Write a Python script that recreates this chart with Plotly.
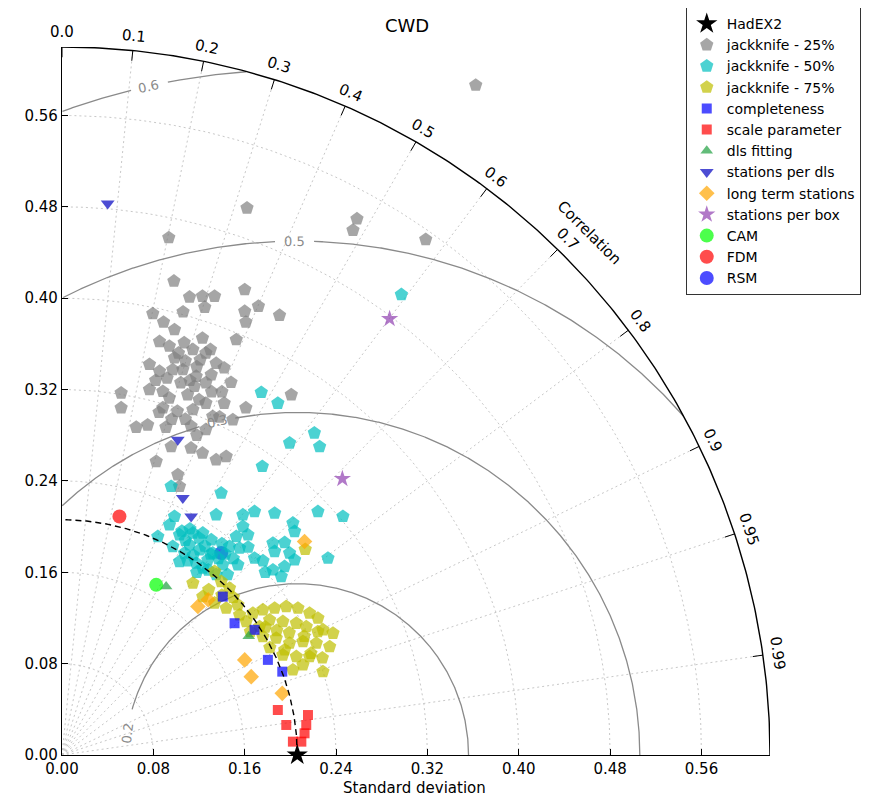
import numpy as np
import plotly.graph_objects as go

# ---------------- data (x = std*corr, y = std*sqrt(1-corr^2)) ----------------
ref_std = 0.206
had_x = [0.206]
had_y = [0.0]

jk25_x = [0.3623, 0.2583, 0.2548, 0.3185, 0.162, 0.0935, 0.098, 0.160, 0.1117, 0.123, 0.1336, 0.125,
          0.106, 0.172, 0.160, 0.1905, 0.0795, 0.161, 0.0889, 0.0985, 0.123, 0.1526, 0.0854, 0.107,
          0.1146, 0.094, 0.126, 0.135, 0.0985, 0.0766, 0.0854, 0.097, 0.1058, 0.1175, 0.1307, 0.126,
          0.148, 0.116, 0.0766, 0.0883, 0.0518, 0.110, 0.120, 0.094, 0.126, 0.142, 0.2008, 0.0518,
          0.0883, 0.101, 0.1146, 0.161, 0.132, 0.1496, 0.065, 0.075, 0.091, 0.126, 0.0956, 0.113,
          0.123, 0.135, 0.1438, 0.0825, 0.1014, 0.1029, 0.108, 0.118, 0.104, 0.113, 0.140, 0.082,
          0.130, 0.142, 0.085, 0.092, 0.102, 0.112, 0.121, 0.131, 0.096, 0.108, 0.118, 0.138]
jk25_y = [0.5866, 0.4695, 0.4595, 0.4514, 0.479, 0.453, 0.415, 0.4075, 0.401, 0.4017, 0.4017, 0.392,
          0.388, 0.393, 0.3885, 0.385, 0.3865, 0.379, 0.379, 0.3725, 0.365, 0.3637, 0.362, 0.361,
          0.355, 0.358, 0.352, 0.343, 0.3477, 0.342, 0.336, 0.3374, 0.3374, 0.3316, 0.333, 0.326,
          0.3263, 0.3228, 0.32, 0.3184, 0.317, 0.3155, 0.311, 0.3126, 0.308, 0.308, 0.3155, 0.304,
          0.304, 0.301, 0.3024, 0.304, 0.2965, 0.2936, 0.287, 0.289, 0.287, 0.285, 0.270, 0.2688,
          0.2644, 0.2585, 0.2614, 0.257, 0.2454, 0.2352, 0.345, 0.340, 0.326, 0.288, 0.318, 0.328,
          0.355, 0.339, 0.300, 0.330, 0.352, 0.328, 0.346, 0.318, 0.294, 0.294, 0.280, 0.296]

jk50_x = [0.1745, 0.189, 0.221, 0.2256, 0.1993, 0.1754, 0.2972, 0.0956, 0.1394, 0.0839,
          0.0985, 0.0941, 0.135, 0.1584, 0.1686, 0.1862, 0.2241, 0.246, 0.2022, 0.2037,
          0.1584, 0.1526, 0.1628, 0.1029, 0.1146, 0.1233, 0.1307, 0.1117, 0.097, 0.1204,
          0.132, 0.1467, 0.1555, 0.1847, 0.1862, 0.1993, 0.2037, 0.2329, 0.1686, 0.1029,
          0.1175, 0.1277, 0.1408, 0.154, 0.1847, 0.1949, 0.192, 0.1073, 0.1233,
          0.108, 0.125, 0.115, 0.137, 0.128, 0.112, 0.145, 0.135,
          0.110, 0.120, 0.105, 0.140, 0.150, 0.118, 0.130, 0.143, 0.163, 0.176, 0.195, 0.178]
jk50_y = [0.3175, 0.308, 0.282, 0.270, 0.2732, 0.2527, 0.4032, 0.2352, 0.2294, 0.1913,
          0.2089, 0.2016, 0.2103, 0.2103, 0.2132, 0.2118, 0.2132, 0.2089, 0.2031, 0.1957,
          0.2001, 0.1913, 0.1928, 0.1928, 0.1943, 0.1943, 0.1884, 0.184, 0.1826, 0.1797,
          0.1768, 0.1826, 0.1811, 0.1855, 0.1782, 0.1768, 0.1709, 0.1724, 0.1724, 0.1694,
          0.168, 0.1709, 0.1665, 0.1665, 0.1621, 0.165, 0.1563, 0.1768, 0.1636,
          0.188, 0.183, 0.175, 0.172, 0.162, 0.198, 0.158, 0.158,
          0.170, 0.190, 0.196, 0.185, 0.172, 0.160, 0.176, 0.176, 0.182, 0.170, 0.186, 0.160]

jk75_x = [0.1146, 0.1336, 0.1394, 0.1467, 0.1233, 0.1336, 0.1438, 0.154, 0.1555, 0.1672,
          0.1759, 0.1862, 0.1964, 0.2066, 0.2168, 0.2241, 0.1818, 0.1934, 0.2052, 0.2139,
          0.2285, 0.2373, 0.1759, 0.1876, 0.1993, 0.211, 0.2227, 0.2344, 0.1934, 0.2052,
          0.2168, 0.2022, 0.211, 0.2285, 0.1613, 0.173, 0.213, 0.1285,
          0.188, 0.199, 0.212, 0.224, 0.182, 0.195, 0.218, 0.228, 0.165, 0.178, 0.140, 0.150]
jk75_y = [0.1505, 0.1607, 0.1519, 0.1461, 0.1387, 0.133, 0.1286, 0.1315, 0.1227, 0.1242,
          0.1271, 0.1286, 0.13, 0.1286, 0.1242, 0.1198, 0.1183, 0.1168, 0.1154, 0.1124,
          0.1096, 0.1066, 0.1037, 0.1023, 0.0979, 0.0993, 0.0979, 0.0949, 0.0876, 0.0862,
          0.0862, 0.0745, 0.0789, 0.073, 0.1168, 0.1124, 0.180, 0.1447,
          0.109, 0.107, 0.104, 0.108, 0.094, 0.092, 0.089, 0.085, 0.108, 0.112, 0.140, 0.138]

comp_x = [0.1408, 0.1511, 0.1686, 0.1803, 0.1929]
comp_y = [0.1387, 0.1154, 0.1096, 0.0833, 0.073]

scale_x = [0.189, 0.2154, 0.1964, 0.2139, 0.2124, 0.2022, 0.2096]
scale_y = [0.0394, 0.035, 0.0263, 0.0263, 0.019, 0.0117, 0.0117]

dls_fit_x = [0.0912, 0.1635]
dls_fit_y = [0.1475, 0.104]

spd_x = [0.040, 0.1014, 0.1058, 0.1131]
spd_y = [0.483, 0.276, 0.225, 0.2089]

lts_x = [0.119, 0.128, 0.160, 0.1657, 0.1929, 0.2124]
lts_y = [0.130, 0.136, 0.0833, 0.0686, 0.054, 0.187]

spb_x = [0.4125, 0.2869, 0.2455]
spb_y = [0.6243, 0.3819, 0.2419]

cam_x = [0.0825]
cam_y = [0.149]
fdm_x = [0.0503]
fdm_y = [0.2089]
rsm_x = [0.1394]
rsm_y = [0.1768]

std_ticks = [0.00, 0.08, 0.16, 0.24, 0.32, 0.40, 0.48, 0.56]
std_labels = ["0.00", "0.08", "0.16", "0.24", "0.32", "0.40", "0.48", "0.56"]
corr_ticks = [0.0, 0.1, 0.2, 0.3, 0.4, 0.5, 0.6, 0.7, 0.8, 0.9, 0.95, 0.99]
corr_labels = ["0.0", "0.1", "0.2", "0.3", "0.4", "0.5", "0.6", "0.7", "0.8", "0.9", "0.95", "0.99"]
rms_levels = [0.15, 0.30, 0.45, 0.60]
rms_labels = ["0.2", "0.3", "0.5", "0.6"]
rms_label_phi = [172.7, 103.5, 90.3, 102.5]

R_MAX = 0.62
FONT = "DejaVu Sans"

fig = go.Figure()

def add_line(x, y, color, width, dash="solid"):
    fig.add_trace(go.Scatter(x=x, y=y, mode="lines", showlegend=False, hoverinfo="skip",
                             line=dict(color=color, width=width, dash=dash), cliponaxis=False))

def polar_note(r, ang_rad, text, angle, size, color="black"):
    # place in paper coordinates (axes span exactly [0, R_MAX] on both sides)
    fig.add_annotation(x=r * np.cos(ang_rad) / R_MAX, y=r * np.sin(ang_rad) / R_MAX,
                       xref="paper", yref="paper", text=text, showarrow=False, textangle=angle,
                       font=dict(family=FONT, size=size, color=color),
                       xanchor="center", yanchor="middle")

# dotted std arcs
th = np.linspace(0, np.pi / 2, 240)
for r in std_ticks[1:]:
    add_line(r * np.cos(th), r * np.sin(th), "#c8c8c8", 1, "2px,3px")
# dotted correlation rays
for c in corr_ticks[1:]:
    s = np.sqrt(1 - c * c)
    add_line([0, R_MAX * c], [0, R_MAX * s], "#c8c8c8", 1, "2px,3px")

# RMS arcs (centered on reference)
phi = np.linspace(0, np.pi, 1200)
for lev, lab, pl in zip(rms_levels, rms_labels, rms_label_phi):
    xs = ref_std + lev * np.cos(phi)
    ys = lev * np.sin(phi)
    pd_ = np.degrees(phi)
    half = np.degrees(0.016 / lev)
    ok = (xs >= 0) & (xs ** 2 + ys ** 2 <= R_MAX ** 2)
    if pl > 160:
        ok &= pd_ < pl - half - 2
    else:
        ok &= np.abs(pd_ - pl) > half
    xx = [float(a) if k else None for a, k in zip(xs, ok)]
    yy = [float(b) if k else None for b, k in zip(ys, ok)]
    add_line(xx, yy, "#8a8a8a", 1.3)
    pr = np.radians(pl)
    fig.add_annotation(x=ref_std + lev * np.cos(pr), y=lev * np.sin(pr), text=lab, showarrow=False,
                       textangle=90 - pl, font=dict(family=FONT, size=13, color="#8a8a8a"),
                       xanchor="center", yanchor="middle")

# outer arc + correlation ticks and labels
add_line(R_MAX * np.cos(th), R_MAX * np.sin(th), "black", 1.4)
for c, lab in zip(corr_ticks, corr_labels):
    a = np.arccos(c)
    add_line([0.611 * np.cos(a), R_MAX * np.cos(a)], [0.611 * np.sin(a), R_MAX * np.sin(a)], "black", 1)
    polar_note(0.633, a, lab, 90 - np.degrees(a), 15)
polar_note(0.650, np.radians(44.7), "Correlation", 45, 15)

# markers
def add_pts(x, y, name, symbol, color, size, opacity=0.7, rank=1):
    fig.add_trace(go.Scatter(x=x, y=y, mode="markers", name=name, cliponaxis=False,
                             legendrank=rank, hoverinfo="skip",
                             marker=dict(symbol=symbol, color=color, size=size, opacity=opacity,
                                         line=dict(width=0))))

add_pts(rsm_x, rsm_y, "RSM", "circle", "#0000ff", 14, 0.7, 13)
add_pts(jk25_x, jk25_y, "jackknife - 25%", "pentagon", "#808080", 14, 0.7, 2)
add_pts(jk50_x, jk50_y, "jackknife - 50%", "pentagon", "#00bfbf", 14, 0.7, 3)
add_pts(jk75_x, jk75_y, "jackknife - 75%", "pentagon", "#bfbf00", 14, 0.7, 4)
add_pts(comp_x, comp_y, "completeness", "square", "#0000ff", 10, 0.7, 5)
add_pts(scale_x, scale_y, "scale parameter", "square", "#ff0000", 10, 0.7, 6)
add_pts(dls_fit_x, dls_fit_y, "dls fitting", "triangle-up", "#20a040", 11, 0.7, 7)
add_pts(spd_x, spd_y, "stations per dls", "triangle-down", "#2020c8", 12, 0.8, 8)
add_pts(lts_x, lts_y, "long term stations", "diamond", "#ffa500", 12, 0.7, 9)
add_pts(spb_x, spb_y, "stations per box", "star", "#9040b0", 13, 0.7, 10)
add_pts(cam_x, cam_y, "CAM", "circle", "#00ff00", 14, 0.7, 11)
add_pts(fdm_x, fdm_y, "FDM", "circle", "#ff0000", 14, 0.7, 12)

# reference std dashed arc
add_line(ref_std * np.cos(th), ref_std * np.sin(th), "black", 1.4, "6px,4px")
add_pts(had_x, had_y, "HadEX2", "star", "black", 16, 1.0, 1)

axis_common = dict(range=[0, R_MAX], showgrid=False, zeroline=False, showline=True,
                   linecolor="black", linewidth=1.4, ticks="inside", ticklen=6, tickcolor="black",
                   tickvals=std_ticks, ticktext=std_labels, automargin=False,
                   tickfont=dict(family=FONT, size=15, color="black"), fixedrange=True)
fig.update_layout(
    width=871, height=801, autosize=False,
    margin=dict(l=54, r=109, t=39, b=54, autoexpand=False),
    paper_bgcolor="white", plot_bgcolor="white",
    xaxis=axis_common, yaxis=axis_common,
    showlegend=True,
    legend=dict(x=0.881, y=1.0565, xanchor="left", yanchor="top", bgcolor="white",
                bordercolor="#333333", borderwidth=1, traceorder="normal",
                font=dict(family=FONT, size=14, color="black"), itemsizing="trace"),
)
fig.add_annotation(x=0.487, y=1.031, xref="paper", yref="paper", text="CWD", showarrow=False,
                   font=dict(family=FONT, size=18, color="black"), xanchor="center", yanchor="middle")
fig.add_annotation(x=0.498, y=-0.046, xref="paper", yref="paper", text="Standard deviation",
                   showarrow=False, font=dict(family=FONT, size=15, color="black"),
                   xanchor="center", yanchor="middle")

fig.write_html("out.html")
